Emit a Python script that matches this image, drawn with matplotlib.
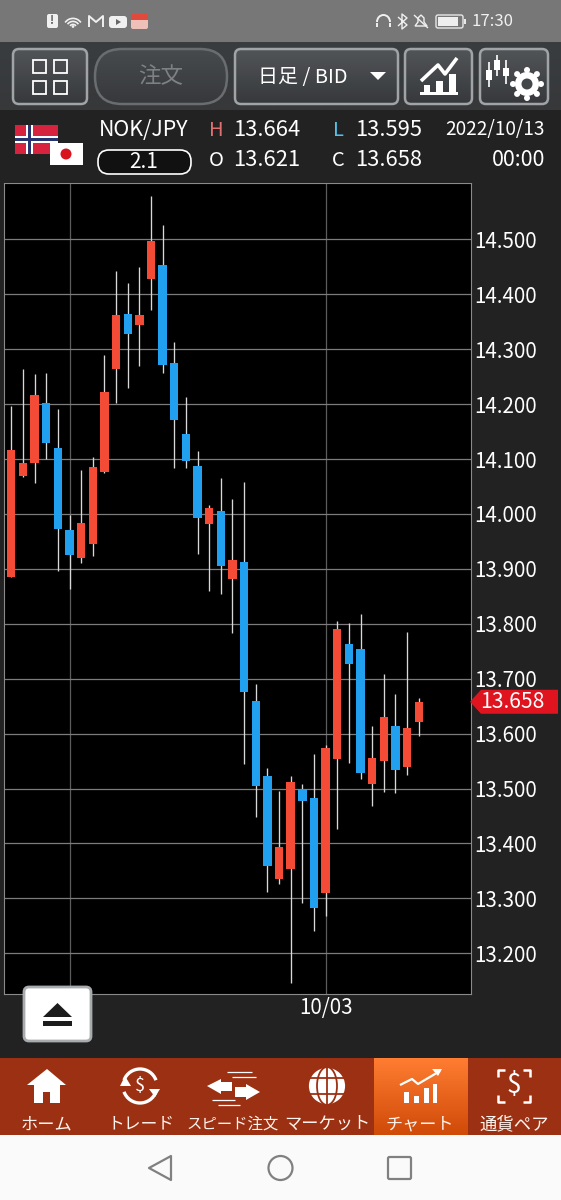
import numpy as np
import matplotlib
matplotlib.use("Agg")
import matplotlib.pyplot as plt
from matplotlib.patches import FancyBboxPatch, Rectangle, Polygon, Circle, Ellipse, Arc

plt.rcParams['font.family'] = ['Noto Sans CJK JP', 'DejaVu Sans']

# daily candles, oldest first
opens = [13.886, 14.069, 14.092, 14.202, 14.120, 13.971, 13.919, 13.945, 14.077, 14.264, 14.365, 14.344,
         14.428, 14.453, 14.275, 14.145, 14.087, 13.982, 14.005, 13.882, 13.913, 13.660, 13.522, 13.335,
         13.353, 13.500, 13.483, 13.309, 13.554, 13.763, 13.754, 13.508, 13.551, 13.613, 13.540, 13.621]
highs = [14.196, 14.264, 14.255, 14.256, 14.191, 13.998, 14.080, 14.104, 14.290, 14.443, 14.421, 14.449,
         14.579, 14.526, 14.314, 14.214, 14.114, 14.017, 14.065, 14.027, 14.058, 13.690, 13.537, 13.495,
         13.522, 13.508, 13.562, 13.580, 13.805, 13.802, 13.817, 13.613, 13.708, 13.672, 13.785, 13.664]
lows = [13.886, 14.068, 14.057, 14.101, 13.896, 13.864, 13.911, 13.924, 14.074, 14.203, 14.230, 14.270,
        14.372, 14.256, 14.084, 14.084, 13.928, 13.860, 13.854, 13.783, 13.545, 13.449, 13.311, 13.326,
        13.146, 13.292, 13.241, 13.267, 13.427, 13.547, 13.518, 13.469, 13.494, 13.491, 13.525, 13.595]
closes = [14.117, 14.092, 14.217, 14.130, 13.972, 13.925, 13.983, 14.085, 14.222, 14.363, 14.328, 14.363,
          14.497, 14.271, 14.172, 14.096, 13.993, 14.011, 13.905, 13.917, 13.675, 13.505, 13.359, 13.393,
          13.511, 13.477, 13.282, 13.573, 13.791, 13.726, 13.528, 13.556, 13.630, 13.534, 13.611, 13.658]

price_ticks = [13.2, 13.3, 13.4, 13.5, 13.6, 13.7, 13.8, 13.9, 14.0, 14.1, 14.2, 14.3, 14.4, 14.5]
date_ticks = [5, 27]
date_labels = ['', '10/03']
last_price = 13.658

RED = '#f44b36'
BLUE = '#22a0f0'
W, H = 561, 1200


def box(ax, x0, y0, x1, y1, r, fc, ec='none', lw=1, z=3):
    p = FancyBboxPatch((x0 + r, y0 + r), x1 - x0 - 2 * r, y1 - y0 - 2 * r,
                       boxstyle=f"round,pad={r},rounding_size={r}", fc=fc, ec=ec, lw=lw, zorder=z)
    ax.add_patch(p)
    return p


def grad(ax, x0, y0, x1, y1, top, bottom, z=1):
    c0 = np.array(matplotlib.colors.to_rgb(top))
    c1 = np.array(matplotlib.colors.to_rgb(bottom))
    img = np.linspace(c0, c1, 64).reshape(64, 1, 3)
    return ax.imshow(img, extent=(x0, x1, y1, y0), aspect='auto', zorder=z)


def rect(ax, x0, y0, x1, y1, c, z=4):
    ax.add_patch(Rectangle((x0, y0), x1 - x0, y1 - y0, fc=c, ec='none', zorder=z))


def line(ax, xs, ys, c='white', lw=1.5, z=4):
    ax.plot(xs, ys, color=c, lw=lw, zorder=z, solid_capstyle='butt')


def txt(ax, x, y, s, size, c='white', ha='left', **kw):
    ax.text(x, y, s, fontsize=size, color=c, ha=ha, va='center', zorder=6, **kw)


fig = plt.figure(figsize=(W / 100, H / 100), dpi=100, facecolor='#222222')

# chart
ax = fig.add_axes([4 / W, 1 - 994 / H, (471 - 4) / W, (994 - 183) / H], facecolor='black')
x_vals = np.arange(len(opens))
for i in x_vals:
    up = closes[i] >= opens[i]
    ax.vlines(i, lows[i], highs[i], color='#d8d8d8', lw=0.95, zorder=3)
    ax.bar(i, abs(closes[i] - opens[i]), bottom=min(opens[i], closes[i]), width=0.72,
           color=RED if up else BLUE, zorder=4)
ax.set_xlim(-0.627, 39.49)
ax.set_ylim(13.1257, 14.6029)
ax.set_yticks(price_ticks)
ax.set_yticklabels([f'{p:.3f}' for p in price_ticks])
ax.set_xticks(date_ticks)
ax.set_xticklabels(date_labels)
ax.yaxis.tick_right()
ax.tick_params(axis='both', length=0, labelcolor='white', labelsize=14.8)
ax.tick_params(axis='y', pad=2)
ax.tick_params(axis='x', pad=2)
ax.grid(axis='y', color='#7c7c7c', lw=0.9, zorder=1)
ax.grid(axis='x', color='#5c5c5c', lw=0.9, zorder=1)
ax.set_axisbelow(True)
for s in ax.spines.values():
    s.set_color('#8a8a8a')
    s.set_linewidth(0.8)

# everything around the chart, in screen pixels
ui = fig.add_axes([0, 0, 1, 1], facecolor='none')
ui.set_zorder(5)
ui.axis('off')

# status bar
rect(ui, 0, 0, W, 42, '#777777', z=1)
box(ui, 47, 14, 58, 28, 2, '#f0f0f0', z=4)
txt(ui, 52.5, 21, '!', 8, c='#555555', ha='center', fontweight='bold')
for r_ in (16, 11, 6):
    ui.add_patch(Arc((73, 28), r_ * 1.2, r_ * 1.2, theta1=215, theta2=325, color='#f0f0f0', lw=1.2, zorder=4))
ui.add_patch(Circle((73, 26.5), 1.4, fc='#f0f0f0', zorder=4))
line(ui, [89, 89, 96, 103, 103], [27, 16, 22, 16, 27], c='#f0f0f0', lw=1.4)
box(ui, 109, 16, 127, 28, 3, '#f0f0f0', z=4)
ui.add_patch(Polygon([(116, 19), (116, 25), (121, 22)], fc='#666666', zorder=5))
box(ui, 131, 14, 148, 29, 2, '#efc0b8', z=4)
rect(ui, 131, 14, 148, 20, '#e04a3c')
line(ui, [377, 377], [23, 27], c='#f0f0f0', lw=1.4)
line(ui, [390, 390], [23, 27], c='#f0f0f0', lw=1.4)
ui.add_patch(Arc((383.5, 22), 13, 14, theta1=180, theta2=360, color='#f0f0f0', lw=1.4, zorder=4))
line(ui, [398, 407, 402, 402, 407, 398], [17, 25, 29, 14, 18, 26], c='#f0f0f0', lw=1)
ui.add_patch(Polygon([(415, 26), (418, 22), (418, 18), (421, 15), (424, 18), (424, 22), (427, 26)],
                     fc='none', ec='#f0f0f0', lw=1, zorder=4))
line(ui, [414, 428], [15, 28], c='#f0f0f0', lw=1)
box(ui, 436, 15, 463, 28, 2, 'none', ec='#e8e8e8', lw=1, z=4)
rect(ui, 438, 17, 458, 26, '#eeeeee')
rect(ui, 464, 19, 466, 24, '#e8e8e8')
txt(ui, 472, 21, '17:30', 12, c='#f0f0f0')

# toolbar
grad(ui, 0, 42, W, 110, '#3a3d40', '#36383a')
rect(ui, 0, 110, W, 183, '#222222', z=1)
for x0, x1 in [(13, 87), (235, 398), (405, 472), (480, 548)]:
    p = box(ui, x0, 49, x1, 104, 6, 'none', ec='#a0a4a6', lw=1.8)
    grad(ui, x0, 49, x1, 104, '#525558', '#36383b', z=2).set_clip_path(p)
p = box(ui, 95, 49, 227, 104, 27, 'none', ec='#6a6d70', lw=1.8)
grad(ui, 95, 49, 227, 104, '#484b4e', '#36383b', z=2).set_clip_path(p)
for x0, y0 in [(33, 60), (54, 60), (33, 81), (54, 81)]:
    ui.add_patch(Rectangle((x0, y0), 13.5, 13, fc='none', ec='white', lw=1.3, zorder=5))
txt(ui, 161, 77, '注文', 16.2, c='#7e8184', ha='center')
txt(ui, 258, 77, '日足 / BID', 14.4)
ui.add_patch(Polygon([(370, 72), (386, 72), (378, 80)], fc='white', zorder=5))

# chart type icon
line(ui, [421, 438, 445, 457], [81, 65, 74, 58], lw=2.6)
for x0, x1, y0 in [(424, 430, 85), (436, 443, 81), (449, 456, 74)]:
    rect(ui, x0, y0, x1, 93, 'white', z=5)
rect(ui, 420, 92, 458, 95, 'white', z=5)

# candle settings icon
for cx, y0, y1, b0, b1 in [(489, 62, 87, 70, 80), (497, 55, 76, 60, 70), (506, 60, 84, 68, 76)]:
    line(ui, [cx, cx], [y0, y1], lw=1.2, z=5)
    rect(ui, cx - 3, b0, cx + 3, b1, 'white', z=5)
ui.add_patch(Circle((527, 84), 12, fc='white', zorder=5))
for a in np.arange(0, 360, 45):
    gx = 527 + 14 * np.cos(np.radians(a))
    gy = 84 + 14 * np.sin(np.radians(a))
    ui.add_patch(Circle((gx, gy), 3, fc='white', zorder=5))
ui.add_patch(Circle((527, 84), 5.5, fc='#44474a', zorder=6))

# pair header
rect(ui, 15, 125, 58, 154, '#d8233e')
rect(ui, 26, 125, 33, 154, 'white', z=5)
rect(ui, 15, 136, 58, 143, 'white', z=5)
rect(ui, 28, 125, 31, 154, '#27346f', z=6)
rect(ui, 15, 138, 58, 141, '#27346f', z=6)
rect(ui, 50, 143, 83, 165, 'white', z=7)
ui.add_patch(Circle((66, 154), 5.5, fc='#d8141e', zorder=8))
txt(ui, 99, 130, 'NOK/JPY', 15.4)
box(ui, 98, 150, 191, 174, 11, '#111111', ec='white', lw=1.2)
txt(ui, 144, 162, '2.1', 15, ha='center')
txt(ui, 209, 130, 'H', 14.5, c='#e07070')
txt(ui, 233, 130, '13.664', 15.8)
txt(ui, 333, 130, 'L', 14.5, c='#55c0e8')
txt(ui, 355, 130, '13.595', 15.8)
txt(ui, 209, 160, 'O', 14.5)
txt(ui, 233, 160, '13.621', 15.8)
txt(ui, 332, 160, 'C', 14.5)
txt(ui, 355, 160, '13.658', 15.8)
txt(ui, 545, 130, '2022/10/13', 13.7, ha='right')
txt(ui, 545, 160, '00:00', 15.4, ha='right')

# last price flag, placed through the chart's own scale
flag_y = H - ax.transData.transform((0, last_price))[1]
ui.add_patch(Polygon([(470, flag_y), (481, flag_y - 12), (558, flag_y - 12), (558, flag_y + 12), (481, flag_y + 12)],
                     fc='#e0141e', zorder=4))
txt(ui, 480, flag_y, f'{last_price:.3f}', 15.2)

# eject button
box(ui, 24, 987, 91, 1041, 5, 'white', ec='#a8acae', lw=2, z=5)
ui.add_patch(Polygon([(43, 1017), (72, 1017), (57.5, 1003)], fc='#1c1c1c', zorder=6))
rect(ui, 43, 1021, 72, 1026, '#1c1c1c', z=6)

# bottom tabs
rect(ui, 0, 1058, W, 1135, '#9c3012', z=1)
grad(ui, 374, 1058, 468, 1135, '#ff7d32', '#d04a08', z=2)
tab_names = ['ホーム', 'トレード', 'スピード注文', 'マーケット', 'チャート', '通貨ペア']
tab_x = [47, 141, 233, 327, 420, 514]
tab_sizes = [12.4, 12.1, 11.1, 12.4, 12.3, 12.5]
for name, tx, ts in zip(tab_names, tab_x, tab_sizes):
    txt(ui, tx, 1124, name, ts, ha='center', c='#fff4ee')

# home
ui.add_patch(Polygon([(27, 1085), (47, 1069), (66, 1085), (60, 1085), (60, 1103), (50, 1103), (50, 1092),
                      (43, 1092), (43, 1103), (34, 1103), (34, 1085)], fc='white', zorder=5))
# trade
ui.add_patch(Arc((140, 1086), 34, 34, theta1=200, theta2=340, color='white', lw=2.4, zorder=5))
ui.add_patch(Arc((140, 1086), 34, 34, theta1=20, theta2=160, color='white', lw=2.4, zorder=5))
ui.add_patch(Polygon([(120, 1086), (131, 1086), (125, 1076)], fc='white', zorder=5))
ui.add_patch(Polygon([(149, 1089), (160, 1089), (155, 1097)], fc='white', zorder=5))
txt(ui, 140, 1086, '$', 13, ha='center')
# speed order
ui.add_patch(Polygon([(207, 1086), (221, 1079), (221, 1082), (232, 1082), (232, 1091), (221, 1091), (221, 1094)],
                     fc='white', zorder=5))
ui.add_patch(Polygon([(260, 1092), (246, 1084), (246, 1087), (235, 1087), (235, 1097), (246, 1097), (246, 1100)],
                     fc='white', zorder=5))
line(ui, [227, 252], [1072, 1072], lw=0.9)
line(ui, [232, 256], [1077, 1077], lw=0.9)
line(ui, [212, 235], [1100, 1100], lw=0.9)
line(ui, [218, 240], [1105, 1105], lw=0.9)
# market
ui.add_patch(Circle((327, 1086), 19, fc='white', zorder=5))
for w_ in (38, 20):
    ui.add_patch(Ellipse((327, 1086), w_, 38, fc='none', ec='#9c3012', lw=1.3, zorder=6))
line(ui, [327, 327], [1067, 1105], c='#9c3012', lw=1.3, z=6)
for yy in (1078, 1094):
    line(ui, [308, 346], [yy, yy], c='#9c3012', lw=1.3, z=6)
# chart tab
line(ui, [400, 412, 418, 440], [1085, 1079, 1084, 1071], lw=1.6, z=5)
ui.add_patch(Polygon([(432, 1069), (442, 1069), (438, 1076)], fc='white', zorder=5))
for x0, x1, y0 in [(404, 409, 1092), (414, 419, 1096), (424, 429, 1088), (433, 437, 1084)]:
    rect(ui, x0, y0, x1, 1103, 'white', z=5)
# currency pair
txt(ui, 514, 1086, '$', 19, ha='center')
for bx, by, dx, dy in [(498, 1070, 1, 1), (530, 1070, -1, 1), (498, 1102, 1, -1), (530, 1102, -1, -1)]:
    line(ui, [bx + 7 * dx, bx, bx], [by, by, by + 7 * dy], lw=1.8, z=5)

# android nav bar
rect(ui, 0, 1135, W, H, '#fafafa', z=1)
ui.add_patch(Polygon([(149, 1168), (171, 1156), (171, 1180)], fc='none', ec='#808080', lw=1.6, joinstyle='round', zorder=5))
ui.add_patch(Circle((280.5, 1168), 12, fc='none', ec='#808080', lw=1.6, zorder=5))
box(ui, 388, 1157, 411, 1179, 1.5, 'none', ec='#808080', lw=1.6, z=5)

ui.set_xlim(0, W)
ui.set_ylim(H, 0)

fig.savefig('out.png', dpi=100, facecolor=fig.get_facecolor())
